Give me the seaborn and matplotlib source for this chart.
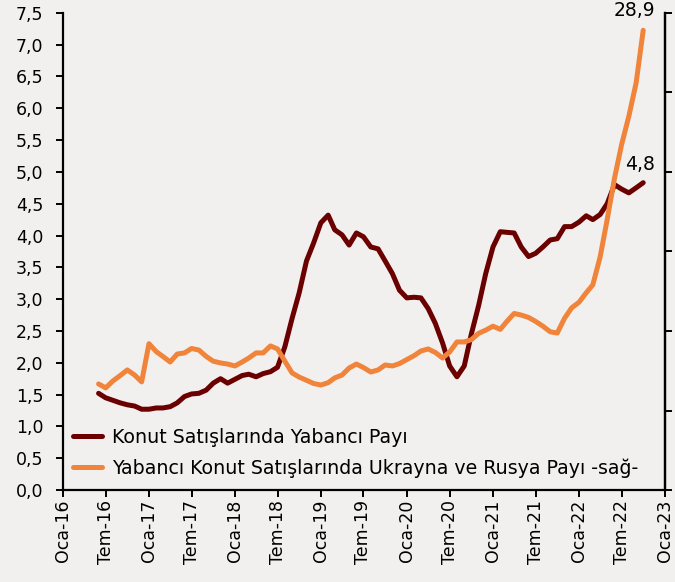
import pandas as pd
import matplotlib
matplotlib.use("Agg")
import matplotlib.pyplot as plt
import matplotlib.ticker as mticker
import seaborn as sns

# ========================
# Data (monthly, Jun-2016 .. Oct-2022)
# ========================
start_month = "2016-06-01"

# Konut satışlarında yabancı payı (%), left axis
foreign_share = [
    1.52, 1.45, 1.41, 1.37, 1.34, 1.32, 1.27,             # Jun16-Dec16
    1.27, 1.29, 1.29, 1.31, 1.37, 1.47, 1.51, 1.52, 1.57, 1.68, 1.75, 1.68,  # 2017
    1.74, 1.80, 1.82, 1.78, 1.83, 1.86, 1.93, 2.25, 2.70, 3.10, 3.60, 3.88,  # 2018
    4.20, 4.32, 4.09, 4.01, 3.85, 4.04, 3.98, 3.82, 3.79, 3.60, 3.40, 3.14,  # 2019
    3.02, 3.03, 3.02, 2.85, 2.62, 2.31, 1.95, 1.78, 1.95, 2.45, 2.90, 3.40,  # 2020
    3.82, 4.06, 4.05, 4.04, 3.82, 3.67, 3.72, 3.82, 3.93, 3.95, 4.14, 4.14,  # 2021
    4.21, 4.31, 4.25, 4.33, 4.50, 4.80, 4.73, 4.67, 4.75, 4.83,              # Jan22-Oct22
]

# Yabancı konut satışlarında Ukrayna ve Rusya payı (%), right axis
ukr_rus_share = [
    6.67, 6.42, 6.86, 7.20, 7.55, 7.23, 6.80,
    9.20, 8.70, 8.40, 8.05, 8.55, 8.62, 8.90, 8.80, 8.40, 8.10, 7.99, 7.92,
    7.80, 8.05, 8.30, 8.62, 8.62, 9.06, 8.87, 8.10, 7.36, 7.10, 6.90, 6.70,
    6.60, 6.75, 7.05, 7.23, 7.67, 7.92, 7.70, 7.42, 7.55, 7.86, 7.80, 7.95,
    8.20, 8.45, 8.74, 8.87, 8.65, 8.30, 8.68, 9.31, 9.31, 9.45, 9.85, 10.05,
    10.30, 10.10, 10.60, 11.10, 11.00, 10.85, 10.60, 10.30, 9.95, 9.87, 10.80, 11.45,
    11.80, 12.40, 12.90, 14.65, 17.00, 19.60, 21.70, 23.50, 25.60, 28.90,
]

labels = [
    "Konut Satışlarında Yabancı Payı",
    "Yabancı Konut Satışlarında Ukrayna ve Rusya Payı -sağ-",
]
tick_months = {1: "Oca", 7: "Tem"}

df = pd.DataFrame({
    "date": pd.date_range(start_month, periods=len(foreign_share), freq="MS"),
    "foreign": foreign_share,
    "ukr_rus": ukr_rus_share,
})

# ========================
# Plot
# ========================
bg = "#f2f0ef"
maroon = "#6b0000"
orange = "#f0843a"

sns.set_style("ticks", rc={"axes.facecolor": bg, "figure.facecolor": bg})
plt.rcParams["font.family"] = ["DejaVu Sans"]
plt.rcParams["font.size"] = 12.5
plt.rcParams["text.color"] = "black"

fig = plt.figure(figsize=(6.75, 5.82), dpi=100)
ax = fig.add_axes([0.093, 0.158, 0.892, 0.82])
ax2 = ax.twinx()

sns.lineplot(data=df, x="date", y="foreign", ax=ax, color=maroon, linewidth=3.6,
             label=labels[0], legend=False)
sns.lineplot(data=df, x="date", y="ukr_rus", ax=ax2, color=orange, linewidth=3.6,
             label=labels[1], legend=False)

ax.set_ylim(0, 7.5)
ax.set_yticks([i * 0.5 for i in range(16)])
ax.yaxis.set_major_formatter(mticker.FuncFormatter(lambda v, p: f"{v:.1f}".replace(".", ",")))
ax2.set_ylim(0, 30)
ax2.set_yticks(range(0, 31, 5))
ax2.set_yticklabels([])

ticks = pd.date_range("2016-01-01", "2023-01-01", freq="6MS")
ax.set_xlim(ticks[0], ticks[-1])
ax.set_xticks(ticks)
ax.set_xticklabels([f"{tick_months[d.month]}-{d.strftime('%y')}" for d in ticks], rotation=90)
ax.set_xlabel("")
ax.set_ylabel("")
ax2.set_ylabel("")

for a in (ax, ax2):
    a.spines["top"].set_visible(False)
    for s in a.spines.values():
        s.set_linewidth(1.6)
        s.set_color("black")
    a.tick_params(direction="out", length=5, width=1.4, colors="black", labelsize=12.5)
ax.tick_params(axis="y", pad=9)
ax.tick_params(axis="x", pad=2)
ax2.spines["left"].set_visible(False)
ax2.spines["bottom"].set_visible(False)

# end-point labels
ax2.annotate("28,9", (df["date"].iloc[-1], ukr_rus_share[-1]), xytext=(-6, 10),
             textcoords="offset points", ha="center", va="baseline", fontsize=13.5)
ax.annotate("4,8", (df["date"].iloc[-1], foreign_share[-1]), xytext=(-2, 9.5),
            textcoords="offset points", ha="center", va="baseline", fontsize=13.5)

h1, l1 = ax.get_legend_handles_labels()
h2, l2 = ax2.get_legend_handles_labels()
ax2.legend(h1 + h2, l1 + l2, loc="lower left", bbox_to_anchor=(0.005, 0.01),
           borderaxespad=0.0, frameon=False, handlelength=1.5, handletextpad=0.55,
           labelspacing=0.6, fontsize=13.7)

fig.savefig("out.png", dpi=100, facecolor=bg)
